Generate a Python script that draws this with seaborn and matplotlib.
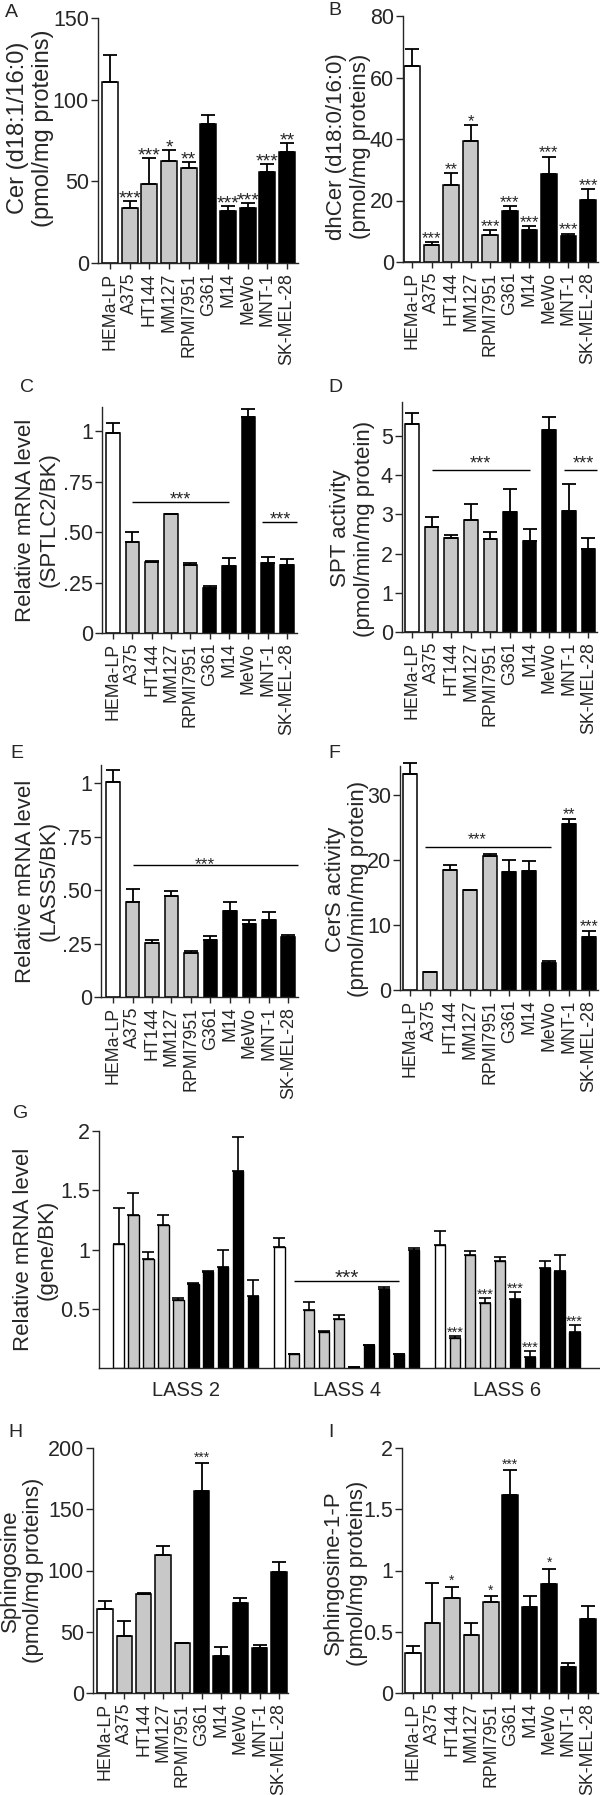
import numpy as np
import pandas as pd
import matplotlib
matplotlib.use("Agg")
import matplotlib.pyplot as plt
import seaborn as sns

# ---------------- data ----------------
cells = ["HEMa-LP", "A375", "HT144", "MM127", "RPMI7951", "G361", "M14", "MeWo", "MNT-1", "SK-MEL-28"]
cell_colors = ["#ffffff", "#c8c8c8", "#c8c8c8", "#c8c8c8", "#c8c8c8",
               "#000000", "#000000", "#000000", "#000000", "#000000"]

# A: Cer (d18:1/16:0)
cer_mean = [110.6, 33.7, 48.6, 62.2, 58.2, 85.1, 31.6, 33.7, 55.7, 67.8]
cer_sem = [17.0, 4.1, 15.7, 6.8, 3.4, 5.7, 3.1, 3.0, 5.1, 5.7]
cer_sig = ["", "***", "***", "*", "**", "", "***", "***", "***", "**"]

# B: dhCer (d18:0/16:0)
dhcer_mean = [63.7, 5.4, 25.0, 39.3, 8.9, 16.5, 10.5, 28.6, 8.4, 20.1]
dhcer_sem = [5.5, 1.1, 3.8, 5.2, 1.4, 1.7, 1.2, 5.6, 0.8, 3.6]
dhcer_sig = ["", "***", "**", "*", "***", "***", "***", "***", "***", "***"]

# C: SPTLC2 mRNA
sptlc2_mean = [0.99, 0.45, 0.354, 0.589, 0.339, 0.222, 0.334, 1.069, 0.345, 0.339]
sptlc2_sem = [0.05, 0.05, 0.005, 0.003, 0.008, 0.013, 0.038, 0.041, 0.033, 0.026]

# D: SPT activity
spt_mean = [5.31, 2.67, 2.40, 2.87, 2.38, 3.05, 2.33, 5.15, 3.09, 2.13]
spt_sem = [0.27, 0.27, 0.07, 0.39, 0.16, 0.61, 0.30, 0.33, 0.68, 0.26]

# E: LASS5 mRNA
lass5_mean = [1.008, 0.447, 0.255, 0.475, 0.206, 0.268, 0.402, 0.343, 0.362, 0.279]
lass5_sem = [0.056, 0.059, 0.011, 0.021, 0.008, 0.018, 0.045, 0.016, 0.037, 0.013]

# F: CerS activity
cers_mean = [33.2, 2.7, 18.5, 15.4, 20.6, 18.2, 18.4, 4.2, 25.5, 8.2]
cers_sem = [1.7, 0.0, 0.8, 0.05, 0.3, 1.8, 1.5, 0.3, 0.8, 0.9]
cers_sig = ["", "", "", "", "", "", "", "", "**", "***"]

# G: LASS 2/4/6 mRNA
genes = ["LASS 2", "LASS 4", "LASS 6"]
lass2_mean = [1.05, 1.29, 0.92, 1.21, 0.57, 0.71, 0.81, 0.85, 1.66, 0.61]
lass2_sem = [0.30, 0.19, 0.06, 0.08, 0.02, 0.01, 0.01, 0.15, 0.29, 0.13]
lass4_mean = [1.02, 0.12, 0.49, 0.30, 0.41, 0.01, 0.19, 0.67, 0.12, 1.00]
lass4_sem = [0.08, 0.0, 0.07, 0.01, 0.04, 0.0, 0.0, 0.01, 0.0, 0.01]
lass6_mean = [1.04, 0.25, 0.95, 0.55, 0.90, 0.58, 0.09, 0.84, 0.82, 0.30]
lass6_sem = [0.12, 0.02, 0.04, 0.04, 0.04, 0.06, 0.05, 0.06, 0.13, 0.06]
lass6_sig = ["", "***", "", "***", "", "***", "***", "", "", "***"]

# H: Sphingosine
sph_mean = [68.8, 46.8, 81.1, 112.9, 40.8, 164.6, 29.9, 73.5, 36.7, 98.5]
sph_sem = [6.0, 11.7, 0.5, 6.8, 0.2, 23.2, 7.4, 4.1, 2.2, 8.2]
sph_sig = ["", "", "", "", "", "***", "", "", "", ""]

# I: Sphingosine-1-P
s1p_mean = [0.327, 0.571, 0.776, 0.476, 0.740, 1.614, 0.699, 0.890, 0.210, 0.607]
s1p_sem = [0.054, 0.327, 0.089, 0.095, 0.049, 0.204, 0.090, 0.122, 0.035, 0.100]
s1p_sig = ["", "", "*", "", "*", "***", "", "*", "", ""]

# ---------------- style ----------------
sns.set_style("ticks")
plt.rcParams['font.family'] = ['Liberation Sans', 'DejaVu Sans']
plt.rcParams['axes.linewidth'] = 1.0

W, H = 600, 1795
fig = plt.figure(figsize=(W / 100, H / 100), dpi=100)
palette = dict(zip(cells, cell_colors))


def add_ax(x0, x1, ytop, ybot):
    return fig.add_axes([x0 / W, 1 - ybot / H, (x1 - x0) / W, (ybot - ytop) / H])


def star(ax, x, y, s, fs, gap_px):
    off = gap_px * 0.72 - 0.58 * fs
    ax.annotate(s, (x, y), xytext=(0, off), textcoords='offset points',
                ha='center', va='baseline', fontsize=fs, annotation_clip=False)


def errbars(ax, xs, mean, sem, lw, cap):
    eb = ax.errorbar(xs, mean, yerr=[np.zeros(len(mean)), sem], fmt='none', ecolor='black',
                     elinewidth=lw, capsize=cap, capthick=lw, zorder=3)
    for art in list(eb.lines[1]) + list(eb.lines[2]):
        art.set_clip_on(False)


def style_axis(ax, ylim, yticks, ytl, ylabel, lab_xy, ylfs=16, ls=1.17, ytfs=15.5):
    ax.set_ylim(*ylim)
    ax.set_yticks(yticks)
    ax.set_yticklabels(ytl, fontsize=ytfs)
    ax.set_ylabel(ylabel, fontsize=ylfs, linespacing=ls)
    ax.yaxis.set_label_coords(*lab_xy)
    ax.spines[['top', 'right']].set_visible(False)
    ax.tick_params(axis='y', length=5, width=1.0, pad=1.5, direction='out')


def bar_panel(rect, xlim, mean, sem, sig, star_fs, star_gap, ylim, yticks, ytl,
              ylabel, lab_xy, bw, ylfs=16, ls=1.17):
    ax = add_ax(*rect)
    df = pd.DataFrame({'cell': cells, 'value': mean})
    sns.barplot(data=df, x='cell', y='value', hue='cell', order=cells, hue_order=cells,
                palette=palette, width=bw, saturation=1, edgecolor='black',
                linewidth=1.1, errorbar=None, legend=False, ax=ax)
    xs = sorted(p.get_x() + p.get_width() / 2 for p in ax.patches)
    errbars(ax, xs, mean, sem, 1.3, 5)
    if sig is not None:
        for x, m, e, s in zip(xs, mean, sem, sig):
            if s:
                star(ax, x, m + e, s, star_fs, star_gap)
    ax.set_xlim(*xlim)
    ax.set_xticks(range(len(cells)))
    ax.set_xticklabels(cells, rotation=90, fontsize=12.8)
    ax.set_xlabel('')
    ax.tick_params(axis='x', length=4, width=1.0, pad=3)
    style_axis(ax, ylim, yticks, ytl, ylabel, lab_xy, ylfs=ylfs, ls=ls)
    return ax, xs


def sig_line(ax, x0, x1, y, xstar, fs, gap_px):
    ax.plot([x0, x1], [y, y], color='black', lw=1.0, solid_capstyle='butt', clip_on=False)
    star(ax, xstar, y, "***", fs, gap_px)


# A
axA, _ = bar_panel((98, 298, 18, 263), (-0.61, 9.56), cer_mean, cer_sem, cer_sig, 14, 9,
                   (0, 150), [0, 50, 100, 150], ['0', '50', '100', '150'],
                   "Cer (d18:1/16:0)\n(pmol/mg proteins)", (-0.22, 0.55), 0.8, ylfs=17, ls=1.15)
# B
axB, _ = bar_panel((403, 598, 16, 262), (-0.46, 9.51), dhcer_mean, dhcer_sem, dhcer_sig, 12, 9,
                   (0, 80), [0, 20, 40, 60, 80], ['0', '20', '40', '60', '80'],
                   "dhCer (d18:0/16:0)\n(pmol/mg proteins)", (-0.165, 0.47), 0.8)
# C
axC, xsC = bar_panel((102, 297, 407, 633), (-0.57, 9.52), sptlc2_mean, sptlc2_sem, None, 12, 9,
                     (0, 1.12), [0, 0.25, 0.5, 0.75, 1], ['0', '.25', '.50', '.75', '1'],
                     "Relative mRNA level\n(SPTLC2/BK)", (-0.215, 0.5), 0.7)
sig_line(axC, 1, 6, 0.651, 3.5, 13, 8)
sig_line(axC, 7.7, 9.52, 0.548, 8.64, 13, 8)
# D
axD, _ = bar_panel((402, 597, 402, 632), (-0.51, 9.44), spt_mean, spt_sem, None, 12, 9,
                   (0, 5.87), [0, 1, 2, 3, 4, 5], ['0', '1', '2', '3', '4', '5'],
                   "SPT activity\n(pmol/min/mg protein)", (-0.14, 0.45), 0.7)
sig_line(axD, 1, 6, 4.13, 3.5, 13, 12)
sig_line(axD, 7.75, 9.44, 4.13, 8.72, 13, 12)
# E
axE, _ = bar_panel((101, 298, 765, 997), (-0.62, 9.5), lass5_mean, lass5_sem, None, 12, 9,
                   (0, 1.086), [0, 0.25, 0.5, 0.75, 1], ['0', '.25', '.50', '.75', '1'],
                   "Relative mRNA level\n(LASS5/BK)", (-0.21, 0.5), 0.7)
sig_line(axE, 1, 9.5, 0.617, 4.7, 12.5, 6)
# F
axF, _ = bar_panel((400, 598, 766, 990), (-0.5, 9.45), cers_mean, cers_sem, cers_sig, 11.5, 9,
                   (0, 34.5), [0, 10, 20, 30], ['0', '10', '20', '30'],
                   "CerS activity\n(pmol/min/mg protein)", (-0.155, 0.45), 0.7)
sig_line(axF, 0.77, 7.07, 22.05, 3.37, 11.5, 12)
# H
axH, _ = bar_panel((93, 288, 1448, 1693), (-0.62, 9.47), sph_mean, sph_sem, sph_sig, 10, 9,
                   (0, 200), [0, 50, 100, 150, 200], ['0', '50', '100', '150', '200'],
                   "Sphingosine\n(pmol/mg proteins)", (-0.25, 0.5), 0.8)
# I
axI, _ = bar_panel((402, 598, 1448, 1693), (-0.57, 9.52), s1p_mean, s1p_sem, s1p_sig, 10, 10,
                   (0, 2), [0, 0.5, 1, 1.5, 2], ['0', '0.5', '1', '1.5', '2'],
                   "Sphingosine-1-P\n(pmol/mg proteins)", (-0.175, 0.49), 0.8)

# G
axG = add_ax(99, 599, 1131, 1368)
gdf = pd.DataFrame({'gene': np.repeat(genes, len(cells)),
                    'cell': cells * len(genes),
                    'value': lass2_mean + lass4_mean + lass6_mean})
sns.barplot(data=gdf, x='gene', y='value', hue='cell', order=genes, hue_order=cells,
            palette=palette, width=0.93, gap=0.3, saturation=1, edgecolor='black',
            linewidth=1.0, errorbar=None, legend=False, ax=axG)
gx = np.array(sorted(p.get_x() + p.get_width() / 2 for p in axG.patches)).reshape(len(genes), len(cells))
g_means = [lass2_mean, lass4_mean, lass6_mean]
g_sems = [lass2_sem, lass4_sem, lass6_sem]
for gi in range(len(genes)):
    errbars(axG, gx[gi], g_means[gi], g_sems[gi], 1.2, 4)
for x, m, e, s in zip(gx[2], lass6_mean, lass6_sem, lass6_sig):
    if s:
        star(axG, x, m + e, s, 10.5, 8)
sig_line(axG, gx[1][1], gx[1][8], 0.73, (gx[1][1] + gx[1][8]) / 2, 15, 10)
axG.set_xlim(-0.54, 2.57)
axG.set_xticks(range(len(genes)))
axG.set_xticklabels(genes, fontsize=14.5)
axG.set_xlabel('')
axG.tick_params(axis='x', length=0, pad=9)
style_axis(axG, (0, 2), [0.5, 1, 1.5, 2], ['0.5', '1', '1.5', '2'],
           "Relative mRNA level\n(gene/BK)", (-0.082, 0.5))

# panel letters
for letter, (lx, ly) in {"A": (5, 17), "B": (328, 15), "C": (20, 392), "D": (328, 392),
                         "E": (10, 758), "F": (328, 758), "G": (13, 1118),
                         "H": (8, 1437), "I": (328, 1437)}.items():
    fig.text(lx / W, 1 - ly / H, letter, fontsize=14, ha='left', va='baseline')

fig.savefig("out.png", dpi=100)
